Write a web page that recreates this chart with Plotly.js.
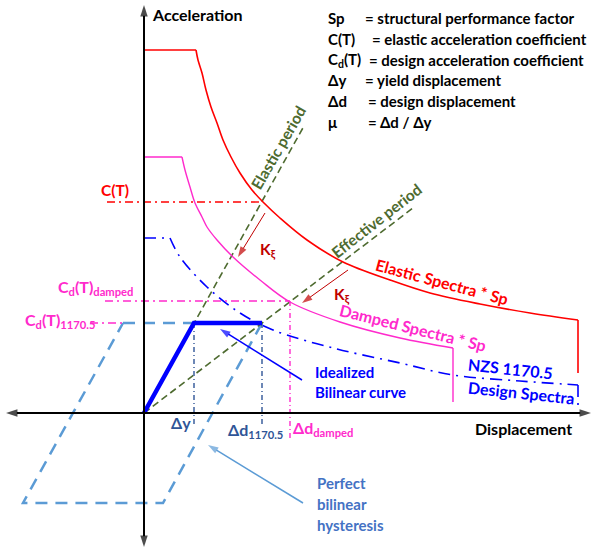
<!DOCTYPE html>
<html><head><meta charset="utf-8">
<script src="https://cdn.plot.ly/plotly-3.0.1.min.js"></script>
<style>html,body{margin:0;padding:0;background:#fff;}#chart{width:593px;height:551px;}</style>
</head><body><div id="chart"></div>
<script>
// ---- Data (displacement, acceleration) in schematic units, origin at axis crossing ----
const elasticD = [0, 52, 54, 58, 62, 67, 73, 79, 87, 96, 108, 119, 136, 163, 199, 246, 286, 336, 386, 434, 434];
const elasticA = [363, 363, 353, 340, 323, 306, 290, 273, 256, 240, 223, 211, 195, 173, 151, 133, 120, 109, 100, 93, 40];
const dampedD = [0, 38, 41, 46, 51, 58, 63, 73, 89, 116, 146, 196, 256, 309, 309];
const dampedA = [256, 256, 243, 226, 210, 196, 186, 173, 156, 133, 111, 91, 75, 65, 11];
const nzsD = [0, 26, 36, 63, 96, 129, 189, 256, 309, 376, 434, 434];
const nzsA = [175, 175, 156, 126, 100, 83, 65, 50, 38, 32, 28, 3];
const elasticPeriodD = [0, 160];
const elasticPeriodA = [0, 287];
const effectivePeriodD = [0, 269];
const effectivePeriodA = [0, 205];
const bilinearD = [0, 50, 118];
const bilinearA = [0, 90, 90];
const hysteresisD = [-21, 118, 19, -121, -21];
const hysteresisA = [90, 90, -90, -90, 90];
const CT = 211, CdDamped = 112, Cd1170 = 90;
const dy = 50, dd1170 = 118, ddDamped = 146;

const RED = '#FF0000', MAG = '#FF2ACC', BLUE = '#0000FF', GREEN = '#4E6B30',
      LBLUE = '#5B9BD5', DBLUE = '#2F5597', DRED = '#C00000', TBLUE = '#4472C4';
const FONT = 'Lato, "Open Sans", sans-serif';

function seg(xs, ys, i0, i1, line, shape) {
  return {x: xs.slice(i0, i1 + 1), y: ys.slice(i0, i1 + 1), mode: 'lines', type: 'scatter',
          hoverinfo: 'skip', line: Object.assign({shape: shape || 'linear'}, line)};
}
function spectrum(xs, ys, line) {
  const n = xs.length;
  return [seg(xs, ys, 0, 1, line), seg(xs, ys, 1, n - 2, Object.assign({smoothing: 1}, line), 'spline'),
          seg(xs, ys, n - 2, n - 1, line)];
}
// arrow: line from (x0,y0) to tip (x1,y1) with an arrowhead marker at the tip
function arrowTrace(x0, y0, x1, y1, color, width, head) {
  return {x: [x0, x1], y: [y0, y1], type: 'scatter', mode: 'lines+markers', hoverinfo: 'skip',
          line: {color: color, width: width},
          marker: {symbol: 'arrow', angleref: 'previous', size: [0, head], color: color,
                   line: {width: 0}}};
}
const dashDot = '8px,4px,2px,4px';
const traces = [].concat(
  [seg(hysteresisD, hysteresisA, 0, 4, {color: LBLUE, width: 2.5, dash: '12px,8px'})],
  [seg(elasticPeriodD, elasticPeriodA, 0, 1, {color: GREEN, width: 1.6, dash: '7px,4px'})],
  [seg(effectivePeriodD, effectivePeriodA, 0, 1, {color: GREEN, width: 1.6, dash: '7px,4px'})],
  spectrum(elasticD, elasticA, {color: RED, width: 1.6}),
  spectrum(dampedD, dampedA, {color: MAG, width: 1.4}),
  spectrum(nzsD, nzsA, {color: BLUE, width: 1.6, dash: '12px,6px,2px,6px'}),
  [{x: [-37, elasticD[11]], y: [CT, CT], mode: 'lines', line: {color: RED, width: 1.4, dash: dashDot}, hoverinfo: 'skip'}],
  [{x: [-39, ddDamped], y: [CdDamped, CdDamped], mode: 'lines', line: {color: MAG, width: 1.4, dash: dashDot}, hoverinfo: 'skip'}],
  [{x: [-54, hysteresisD[0]], y: [Cd1170, Cd1170], mode: 'lines', line: {color: MAG, width: 1.4, dash: dashDot}, hoverinfo: 'skip'}],
  [{x: [dy, dy], y: [Cd1170, -14], mode: 'lines', line: {color: DBLUE, width: 1.4, dash: '5px,3px,1px,3px'}, hoverinfo: 'skip'}],
  [{x: [dd1170, dd1170], y: [Cd1170, -12], mode: 'lines', line: {color: DBLUE, width: 1.4, dash: '5px,3px,1px,3px'}, hoverinfo: 'skip'}],
  [{x: [ddDamped, ddDamped], y: [CdDamped, -25], mode: 'lines', line: {color: MAG, width: 1.4, dash: '5px,3px,1px,3px'}, hoverinfo: 'skip'}],
  [seg(bilinearD, bilinearA, 0, 2, {color: BLUE, width: 4.5})],
  [arrowTrace(0, 0, 447, 0, 'black', 2, 12), arrowTrace(0, 0, -138, 0, 'black', 2, 12),
   arrowTrace(0, 0, 0, 408, 'black', 2, 12), arrowTrace(0, 0, 0, -134, 'black', 2, 12),
   arrowTrace(121, 200, 94, 156, DRED, 1, 11), arrowTrace(204, 143, 158, 110, DRED, 1, 11),
   arrowTrace(158, 33, 76, 84, BLUE, 1.5, 11), arrowTrace(159, -90, 64, -32, LBLUE, 1.5, 11)]
);

function label(text, x, y, size, color, xanchor, angle) {
  return {x: x, y: y, xref: 'x', yref: 'y', text: text, showarrow: false, xanchor: xanchor || 'center',
          yanchor: 'middle', textangle: angle || 0, font: {family: FONT, size: size, color: color, weight: 'bold'}};
}
const legendRows = [
  ['Sp', '= structural performance factor', 219],
  ['C(T)', '= elastic acceleration coefficient', 226],
  ['C<sub>d</sub>(T)', '= design acceleration coefficient', 223],
  ['\u0394y', '= yield displacement', 219],
  ['\u0394d', '= design displacement', 222],
  ['\u03bc', '= \u0394d / \u0394y', 222]
];
const annotations = [
  label('Acceleration', 6, 399, 16, 'black', 'left'),
  label('Displacement', 329, -15, 16, 'black', 'left'),
  label('C(T)', -29, 223, 15.5, RED),
  label('C<sub>d</sub>(T)<sub>damped</sub>', -88, 126, 16, MAG, 'left'),
  label('C<sub>d</sub>(T)<sub>1170.5</sub>', -121, 93, 16, MAG, 'left'),
  label('\u0394y', 37, -9, 16, DBLUE),
  label('\u0394d<sub>1170.5</sub>', 82, -17, 16, DBLUE, 'left'),
  label('\u0394d<sub>damped</sub>', 147, -15, 16, MAG, 'left'),
  label('K<sub>\u03be</sub>', 124, 163, 15.5, DRED),
  label('K<sub>\u03be</sub>', 198, 118, 15.5, DRED),
  label('Elastic period', 134, 265, 15.5, GREEN, 'center', -60),
  label('Effective period', 232, 192, 15.5, GREEN, 'center', -38),
  label('Elastic Spectra * Sp', 298, 132, 16, RED, 'center', 15),
  label('Damped Spectra * Sp', 269, 86, 16, MAG, 'center', 14),
  label('NZS 1170.5', 366, 45, 16, BLUE, 'center', 6),
  label('Design Spectra', 377, 21, 16, BLUE, 'center', 6),
  label('Idealized', 169, 41, 15, BLUE, 'left'),
  label('Bilinear curve', 169, 21, 15, BLUE, 'left'),
  label('Perfect', 171, -70, 15, TBLUE, 'left'),
  label('bilinear', 171, -91, 15, TBLUE, 'left'),
  label('hysteresis', 171, -112, 15, TBLUE, 'left')
];
const rowY = [395, 374, 353, 333, 312, 291];
legendRows.forEach((r, i) => {
  annotations.push(label(r[0], 182, rowY[i], 15, 'black', 'left'));
  annotations.push(label(r[1], r[2], rowY[i], 15, 'black', 'left'));
});

const layout = {
  width: 593, height: 551, autosize: false,
  margin: {l: 0, r: 0, t: 0, b: 0},
  paper_bgcolor: '#fff', plot_bgcolor: '#fff', showlegend: false,
  xaxis: {range: [-144, 449], visible: false, fixedrange: true},
  yaxis: {range: [-138, 413], visible: false, fixedrange: true},
  annotations: annotations
};
Plotly.newPlot('chart', traces, layout, {staticPlot: true, displayModeBar: false});
</script></body></html>
